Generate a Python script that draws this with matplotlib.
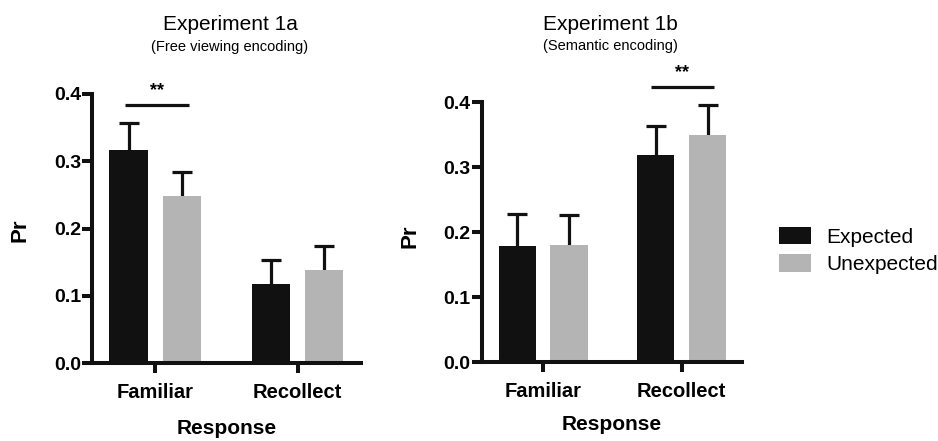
import matplotlib
matplotlib.use("Agg")
import matplotlib.pyplot as plt
from matplotlib.patches import Patch
import numpy as np

plt.rcParams['font.family'] = ['Liberation Sans', 'DejaVu Sans']

categories = ["Familiar", "Recollect"]
series_names = ["Expected", "Unexpected"]

# Experiment 1a
exp1a_expected = [0.317, 0.118]
exp1a_expected_err = [0.040, 0.035]
exp1a_unexpected = [0.248, 0.139]
exp1a_unexpected_err = [0.036, 0.035]

# Experiment 1b
exp1b_expected = [0.179, 0.319]
exp1b_expected_err = [0.049, 0.044]
exp1b_unexpected = [0.180, 0.349]
exp1b_unexpected_err = [0.046, 0.047]

yticks = [0.0, 0.1, 0.2, 0.3, 0.4]
ytick_labels = ["0.0", "0.1", "0.2", "0.3", "0.4"]

titles = ["Experiment 1a", "Experiment 1b"]
subtitles = ["(Free viewing encoding)", "(Semantic encoding)"]

BLACK = "#111111"
GRAY = "#b4b4b4"
W, H = 938, 441

fig = plt.figure(figsize=(W / 100, H / 100), dpi=100)

def px_rect(x0, x1, ytop, ybot):
    return [x0 / W, 1 - ybot / H, (x1 - x0) / W, (ybot - ytop) / H]

ax1 = fig.add_axes(px_rect(92, 360.7, 94, 363.3))
ax2 = fig.add_axes(px_rect(481.7, 742, 102.3, 362.3))

panels = [
    (ax1, exp1a_expected, exp1a_expected_err, exp1a_unexpected, exp1a_unexpected_err, (-0.444, 1.444)),
    (ax2, exp1b_expected, exp1b_expected_err, exp1b_unexpected, exp1b_unexpected_err, (-0.445, 1.436)),
]

bar_w = 0.27
off = 0.187
x = np.arange(len(categories))

for ax, e, ee, u, ue, xl in panels:
    ax.bar(x - off, e, width=bar_w, color=BLACK, zorder=2)
    ax.bar(x + off, u, width=bar_w, color=GRAY, zorder=2)
    # symmetric error bars drawn beneath the bars: only the upper half shows
    ax.errorbar(x - off, e, yerr=ee, fmt='none', ecolor=BLACK,
                elinewidth=2.3, capsize=7.5, capthick=2.3, zorder=1)
    ax.errorbar(x + off, u, yerr=ue, fmt='none', ecolor=BLACK,
                elinewidth=2.3, capsize=7.5, capthick=2.3, zorder=1)
    ax.set_xlim(*xl)
    ax.set_ylim(0, 0.4)
    ax.set_yticks(yticks)
    ax.set_yticklabels(ytick_labels, fontsize=14, fontweight='bold')
    ax.set_xticks(x)
    ax.set_xticklabels(categories, fontsize=14.5, fontweight='bold')
    for s in ['top', 'right']:
        ax.spines[s].set_visible(False)
    for s in ['left', 'bottom']:
        ax.spines[s].set_linewidth(2.9)
        ax.spines[s].set_color(BLACK)
        ax.spines[s].set_zorder(3)
    ax.tick_params(axis='both', width=2.9, length=7, color=BLACK)
    ax.tick_params(axis='y', pad=1)
    ax.tick_params(axis='x', pad=7)
    ax.set_facecolor('none')

# significance markers
ax1.plot([-0.21, 0.24], [0.3844, 0.3844], color=BLACK, lw=2.3, clip_on=False, solid_capstyle='butt')
ax1.text(0.012, 0.405, "**", ha='center', va='center', fontsize=13, fontweight='bold')
ax2.plot([1 - 0.222, 1 + 0.233], [0.424, 0.424], color=BLACK, lw=2.3, clip_on=False, solid_capstyle='butt')
ax2.text(1.002, 0.445, "**", ha='center', va='center', fontsize=13, fontweight='bold', clip_on=False)

# titles
for cx, t, st, ty, sty in [(230, titles[0], subtitles[0], 25, 46.5), (610, titles[1], subtitles[1], 25, 46)]:
    fig.text(cx / W, 1 - ty / H, t, ha='center', va='center', fontsize=15)
    fig.text(cx / W, 1 - sty / H, st, ha='center', va='center', fontsize=10.5)

# axis labels
fig.text(20 / W, 1 - 230 / H, "Pr", rotation=90, ha='center', va='center', fontsize=16, fontweight='bold')
fig.text(410 / W, 1 - 236 / H, "Pr", rotation=90, ha='center', va='center', fontsize=16, fontweight='bold')
fig.text(227 / W, 1 - 428 / H, "Response", ha='center', va='center', fontsize=15, fontweight='bold')
fig.text(612 / W, 1 - 424 / H, "Response", ha='center', va='center', fontsize=15, fontweight='bold')

handles = [Patch(facecolor=BLACK, edgecolor='none'), Patch(facecolor=GRAY, edgecolor='none')]
fig.legend(handles, series_names, loc='upper left', bbox_to_anchor=(779.3 / W, 1 - 227 / H),
           frameon=False, fontsize=15, handlelength=1.51, handleheight=0.91,
           handletextpad=0.74, labelspacing=0.35, borderpad=0, borderaxespad=0)

fig.savefig("out.png", dpi=100)
